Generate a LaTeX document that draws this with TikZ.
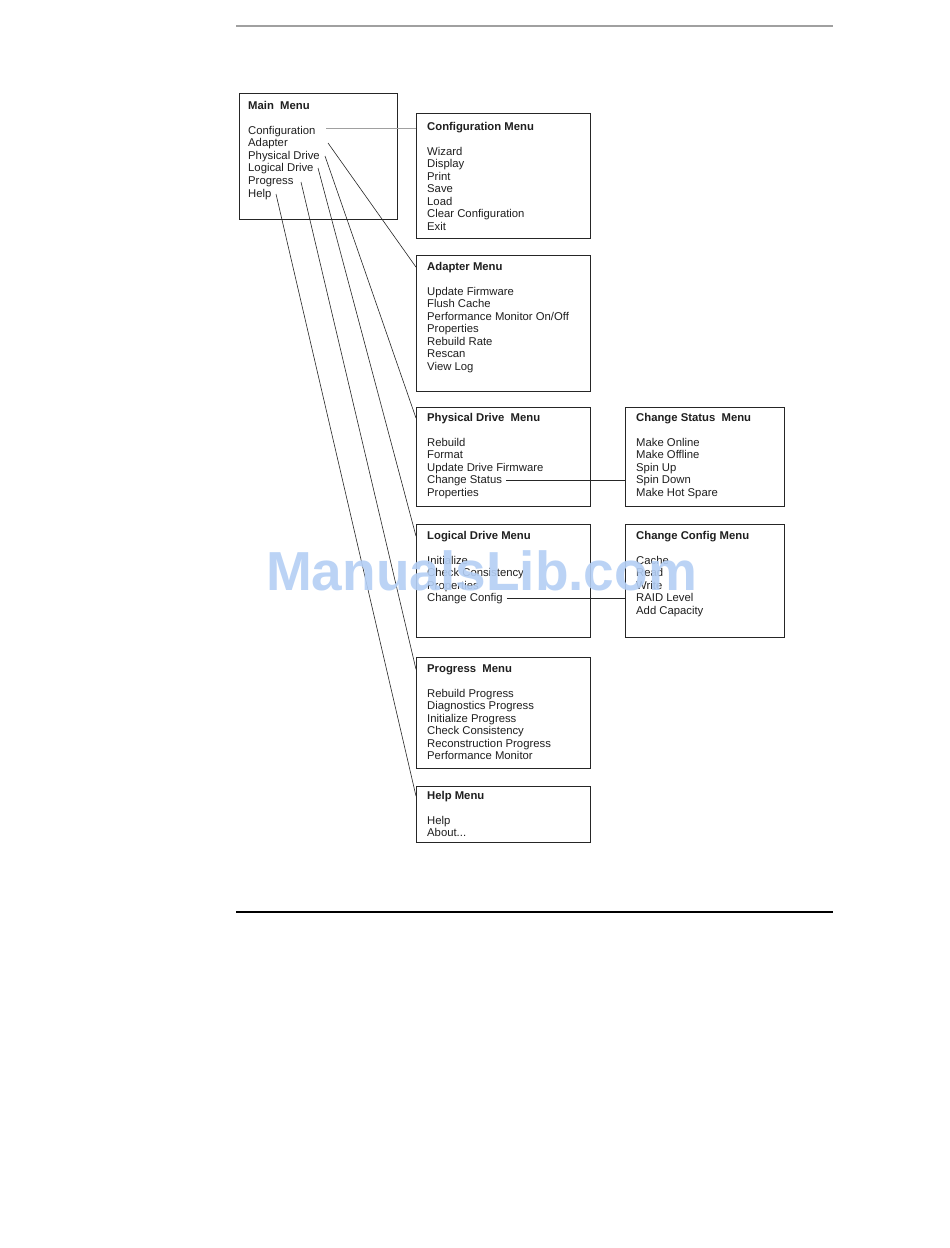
\documentclass[tikz,border=0pt]{standalone}
\usepackage{fontspec}
\setmainfont{Liberation Sans}
\definecolor{wm}{RGB}{180,207,245}
\definecolor{rulegray}{RGB}{160,160,160}
\begin{document}
\begin{tikzpicture}[x=1pt,y=-1pt,
  box/.style={draw=black!85, line width=0.8pt, anchor=north west, inner sep=0pt},
  txt/.style={anchor=base west, inner sep=0pt, font=\fontsize{11.3}{12.5}\selectfont, text=black!88},
  ttl/.style={txt, font=\fontsize{11.3}{12.5}\selectfont\bfseries},
  link/.style={draw=black!85, line width=0.6pt},
  glink/.style={draw=rulegray, line width=0.9pt},
]
\useasboundingbox[fill=white] (0,0) rectangle (950,1248);

% page rules
\coordinate (rtl) at (236,26); \coordinate (rtr) at (833,26);
\coordinate (rbl) at (236,912); \coordinate (rbr) at (833,912);
\draw[draw=rulegray, line width=1.3pt] (rtl) -- (rtr);
\draw[draw=black, line width=1.2pt] (rbl) -- (rbr);

% boxes
\node[box, minimum width=158pt, minimum height=126pt] (mainbox) at (239,93) {};
\node[box, minimum width=174pt, minimum height=125pt] (cfgbox) at (416,113) {};
\node[box, minimum width=174pt, minimum height=136pt] (adbox) at (416,255) {};
\node[box, minimum width=174pt, minimum height=99pt] (pdbox) at (416,407) {};
\node[box, minimum width=159pt, minimum height=99pt] (stbox) at (625,407) {};
\node[box, minimum width=174pt, minimum height=113pt] (ldbox) at (416,524) {};
\node[box, minimum width=159pt, minimum height=113pt] (ccbox) at (625,524) {};
\node[box, minimum width=174pt, minimum height=111pt] (prbox) at (416,657) {};
\node[box, minimum width=174pt, minimum height=56pt] (hlbox) at (416,786) {};

% main menu
\node[ttl] (mT) at (248,109) {Main\ \ Menu};
\node[txt] (mConf) at (248,134) {Configuration};
\node[txt] (mAdap) at (248,146.6) {Adapter};
\node[txt] (mPhys) at (248,159.2) {Physical Drive};
\node[txt] (mLog) at (248,171.8) {Logical Drive};
\node[txt] (mProg) at (248,184.4) {Progress};
\node[txt] (mHelp) at (248,197) {Help};

% configuration menu
\node[ttl] (cfT) at (427,130) {Configuration Menu};
\foreach \t [count=\i from 0] in {Wizard,Display,Print,Save,Load,Clear Configuration,Exit}
  \node[txt] (cf\i) at (427,{155+12.5*\i}) {\t};

% adapter menu
\node[ttl] (adT) at (427,270) {Adapter Menu};
\foreach \t [count=\i from 0] in {Update Firmware,Flush Cache,Performance Monitor On/Off,Properties,Rebuild Rate,Rescan,View Log}
  \node[txt] (ad\i) at (427,{295+12.5*\i}) {\t};

% physical drive menu
\node[ttl] (pdT) at (427,421) {Physical Drive\ \ Menu};
\foreach \t [count=\i from 0] in {Rebuild,Format,Update Drive Firmware,Change Status,Properties}
  \node[txt] (pd\i) at (427,{446+12.5*\i}) {\t};

% change status menu
\node[ttl] (stT) at (636,421) {Change Status\ \ Menu};
\foreach \t [count=\i from 0] in {Make Online,Make Offline,Spin Up,Spin Down,Make Hot Spare}
  \node[txt] (st\i) at (636,{446+12.5*\i}) {\t};

% logical drive menu
\node[ttl] (ldT) at (427,539) {Logical Drive Menu};
\foreach \t [count=\i from 0] in {Initialize,Check Consistency,Properties,Change Config}
  \node[txt] (ld\i) at (427,{564+12.5*\i}) {\t};

% change config menu
\node[ttl] (ccT) at (636,539) {Change Config Menu};
\foreach \t [count=\i from 0] in {Cache,Read,Write,RAID Level,Add Capacity}
  \node[txt] (cc\i) at (636,{564+12.5*\i}) {\t};

% progress menu
\node[ttl] (prT) at (427,672) {Progress\ \ Menu};
\foreach \t [count=\i from 0] in {Rebuild Progress,Diagnostics Progress,Initialize Progress,Check Consistency,Reconstruction Progress,Performance Monitor}
  \node[txt] (pr\i) at (427,{697+12.5*\i}) {\t};

% help menu
\node[ttl] (hlT) at (427,799) {Help Menu};
\node[txt] (hl0) at (427,824) {Help};
\node[txt] (hl1) at (427,836.5) {About...};

% connector start points
\coordinate (sConf) at (326,128);
\coordinate (sAdap) at (328,143);
\coordinate (sPhys) at (325,156);
\coordinate (sLog) at (318,168);
\coordinate (sProg) at (301,182);
\coordinate (sHelp) at (276,194);

% connectors
\draw[glink] (sConf) -- (sConf -| cfgbox.west);
\draw[link] (sAdap) -- (adbox.west |- adT.west);
\draw[link] (sPhys) -- (pdbox.west |- pdT.west);
\draw[link] (sLog) -- (ldbox.west |- ldT.west);
\draw[link] (sProg) -- (prbox.west |- prT.west);
\draw[link] (sHelp) -- (hlbox.west |- hlT.west);
\draw[link] ([xshift=4pt]pd3.east) -- (pd3.east -| stbox.west);
\draw[link] ([xshift=4pt]ld3.east) -- (ld3.east -| ccbox.west);

% watermark
\node[anchor=base, inner sep=0pt, font=\fontsize{55}{55}\selectfont\bfseries, text=wm, text opacity=0.9] (wmark) at (481.5,590) {ManualsLib.com};
\end{tikzpicture}
\end{document}
